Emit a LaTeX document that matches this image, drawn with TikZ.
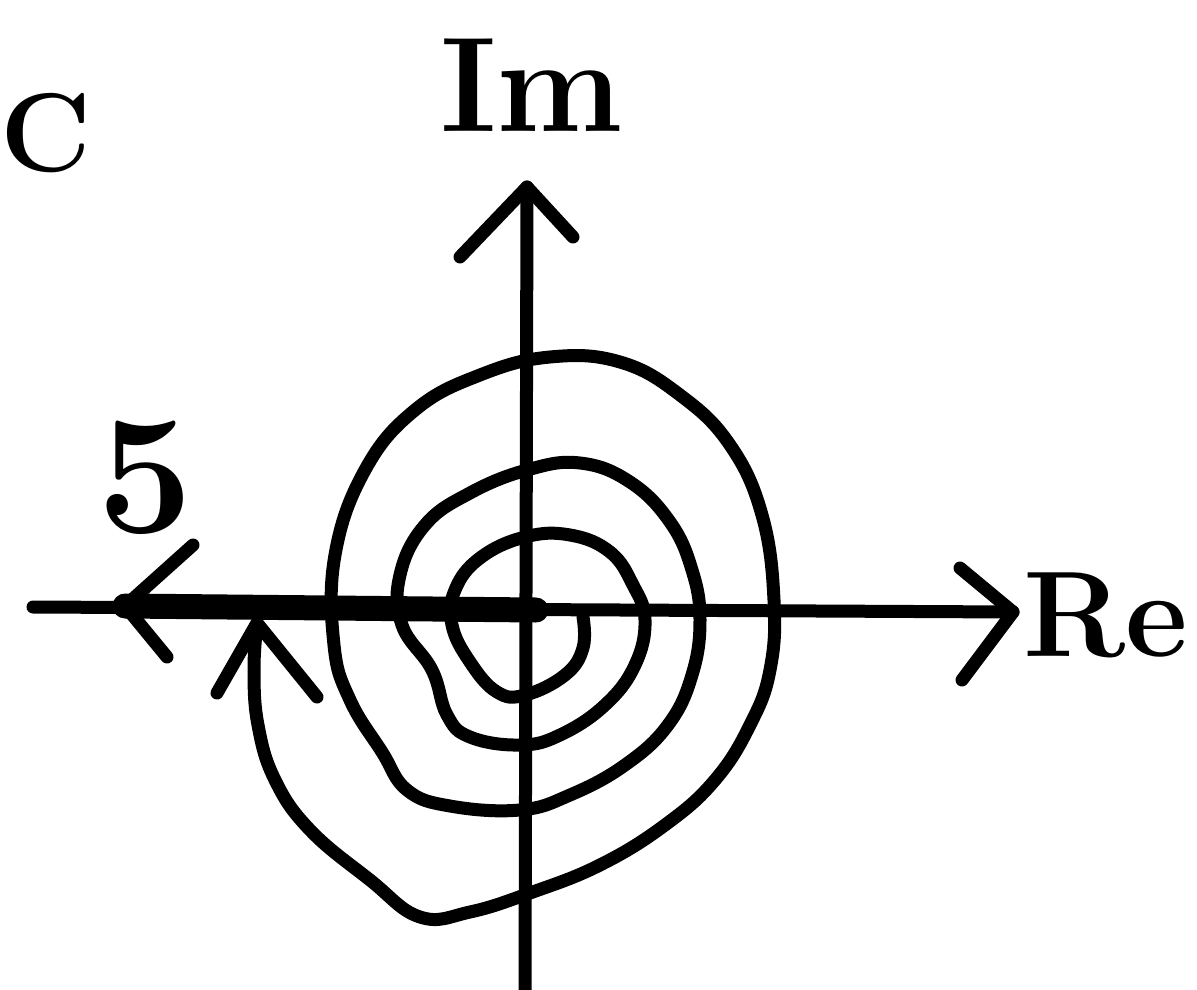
\documentclass[tikz,border=0pt]{standalone}
\begin{document}
\begin{tikzpicture}[x=1pt,y=-1pt,
  pen/.style={line width=13pt,line cap=round,line join=round},
  thickpen/.style={line width=25pt,line cap=round},
  lbl/.style={inner sep=0pt,anchor=center,font=\bfseries}]
\useasboundingbox (0,0) rectangle (1197,990);
% axes
\coordinate (xl) at (33,607);
\coordinate (xr) at (1013,612);
\coordinate (yb) at (525,995);
\coordinate (yt) at (527,187);
\coordinate (o) at (536,610);
\coordinate (lt) at (125,606);
\draw[pen] (xl) -- (xr);
\draw[pen] (yb) -- (yt);
\draw[thickpen] (lt) -- (o);
% arrowheads (open barbs)
\draw[pen] (960,568) -- (xr) -- (962,680);
\draw[pen] (460,257) -- (yt) -- (573,237);
\draw[pen] (193,545) -- (lt) -- (167,657);
% spiral
\coordinate (sp) at (257,623);
\draw[pen] plot[smooth,tension=0.7] coordinates {
 (583,617) (583,648) (565,675) (525,695) (497,692) (470,662) (452,625) (455,590)
 (480,558) (525,537) (570,535) (610,552) (633,585) (645,620) (635,665) (605,705)
 (560,735) (520,745) (470,737) (447,715) (432,670) (402,625) (400,575) (425,525)
 (470,493) (527,470) (580,463) (630,482) (670,522) (692,570) (700,620) (692,675)
 (668,725) (625,765) (570,795) (520,810) (450,806) (407,790) (382,752) (350,700)
 (334,645) (335,555) (365,470) (415,410) (480,375) (550,357) (620,362) (680,395)
 (730,445) (762,515) (774,600) (770,670) (750,725) (715,780) (665,825) (600,865)
 (530,893) (470,912) (420,917) (370,880) (310,830) (275,780) (258,725) (254,670) (sp)};
\draw[pen] (217,693) -- (sp) -- (317,697);
% labels
\node[lbl,font=\fontsize{112}{112}\selectfont\bfseries] (cc) at (46,133) {C};
\node[lbl,font=\fontsize{135}{135}\selectfont\bfseries] (im) at (532,85) {Im};
\node[lbl,font=\fontsize{122}{122}\selectfont\bfseries] (re) at (1106,615) {Re};
\node[lbl,font=\fontsize{170}{170}\selectfont\bfseries] (five) at (145,478) {5};
\end{tikzpicture}
\end{document}
